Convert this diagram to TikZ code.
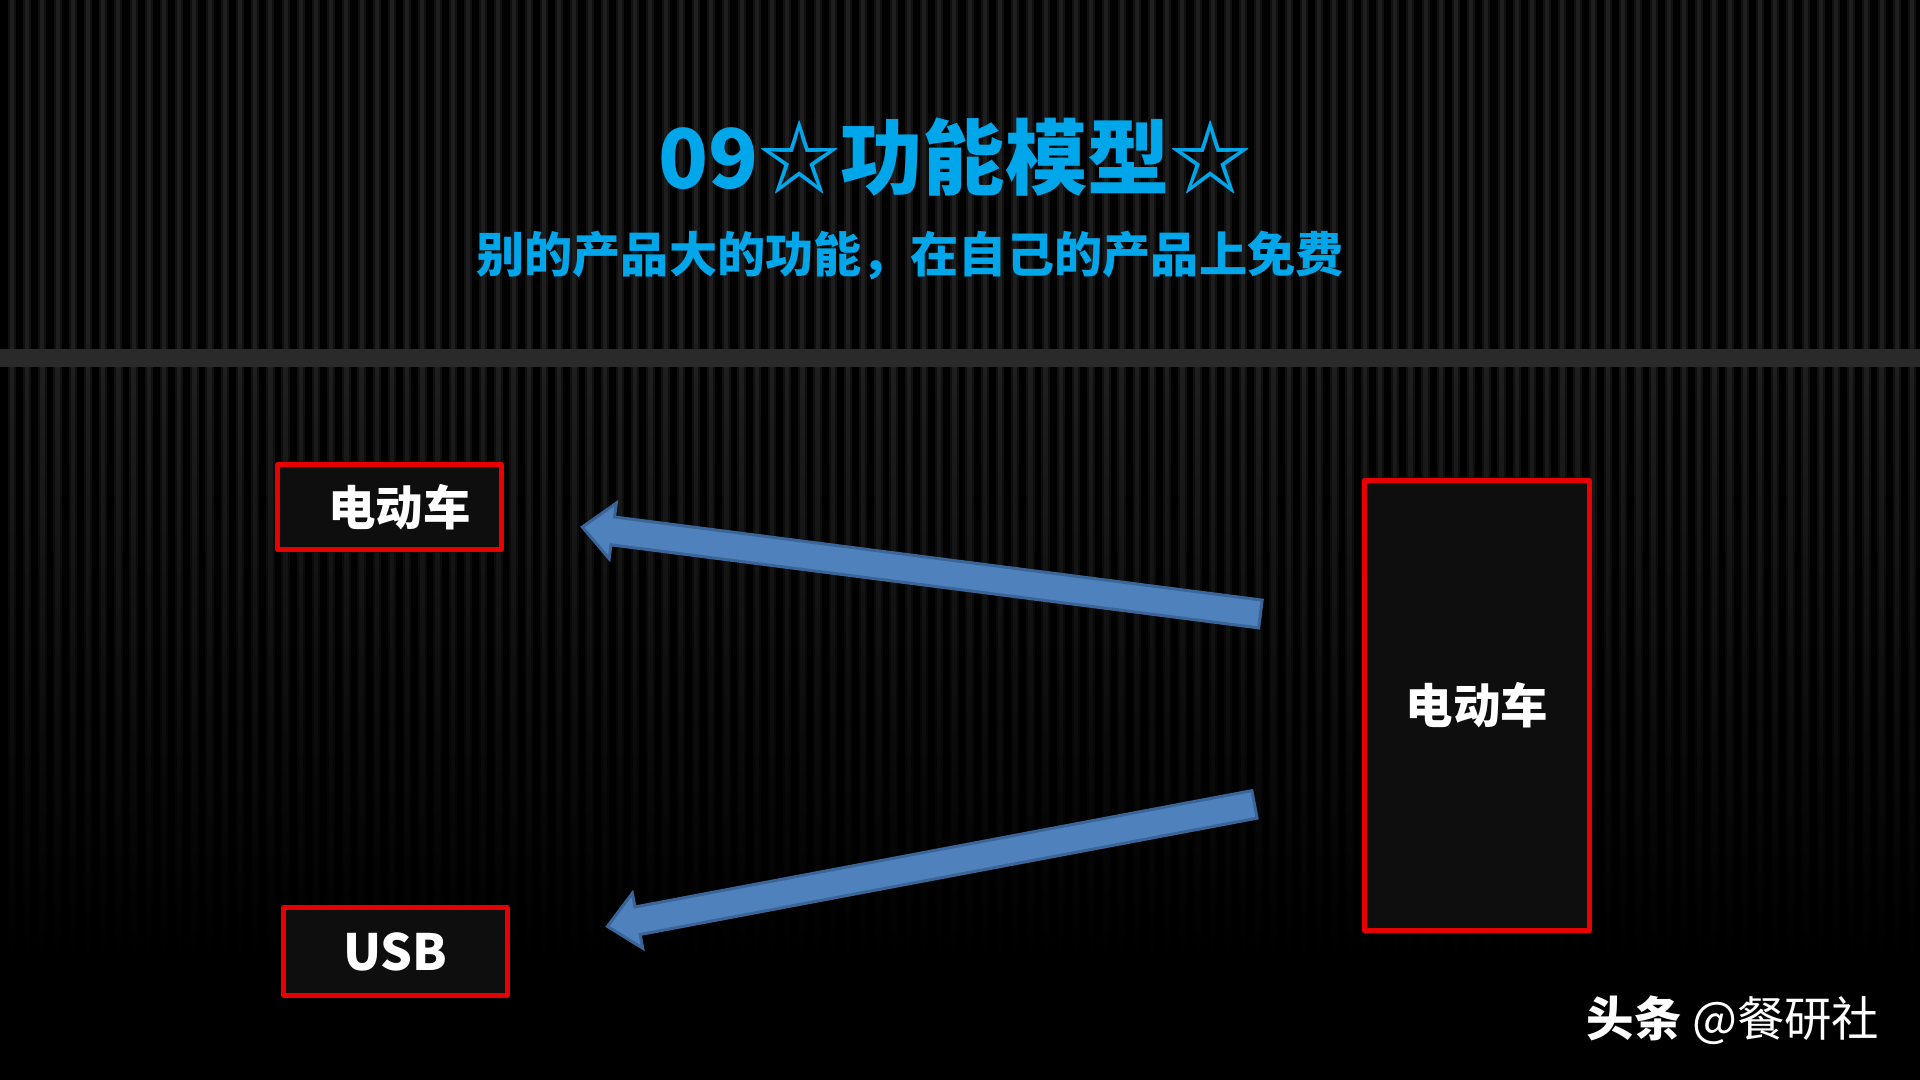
\documentclass[tikz,border=0pt]{standalone}
\usepackage{fontspec}
\usetikzlibrary{calc,shapes.arrows}
\newfontfamily\cjk{Noto Sans CJK SC}
\definecolor{titleblue}{HTML}{00A6EA}
\definecolor{boxred}{HTML}{E60000}
\definecolor{boxfill}{HTML}{0E0E0E}
\definecolor{arrowfill}{HTML}{4F81BD}
\definecolor{arrowline}{HTML}{3A6598}
\definecolor{stripegray}{HTML}{1E1E1E}
\definecolor{stripedim}{HTML}{101010}
\definecolor{bandgray}{HTML}{2A2A2A}
\tikzset{
  redbox/.style={draw=boxred, line width=0.05cm, fill=boxfill, line join=round,
    text=white, inner sep=0pt, font=\cjk\bfseries\fontsize{13.5}{16}\selectfont},
  blockarrow/.style={single arrow, draw=arrowline, fill=arrowfill, line width=0.03cm,
    inner xsep=0pt, inner ysep=0.125cm, minimum width=0pt,
    single arrow head extend=0.14cm, single arrow tip angle=85},
  bluetext/.style={text=titleblue, inner sep=0pt},
}

\begin{document}
\begin{tikzpicture}[x=0.01cm, y=-0.01cm]
			%%%%% BACKGROUND %%%%%
			\useasboundingbox (0,0) rectangle (1920,1080);
			\fill[black] (0,0) rectangle (1920,1080);
			\foreach \i in {0,...,125}{
				\pgfmathsetmacro\sx{12+15.2*\i}
				\fill[stripedim] (\sx-4,0) rectangle (\sx+4,349);
				\fill[stripegray] (\sx-2,0) rectangle (\sx+2,349);
				\shade[top color=stripedim, bottom color=black] (\sx-4,367) rectangle (\sx+4,960);
				\shade[top color=stripegray, bottom color=black] (\sx-2,367) rectangle (\sx+2,960);
			}
			\fill[bandgray] (0,349) rectangle (1920,367);
			
			%%%%% TITLE %%%%%
			\node[bluetext, font=\cjk\bfseries\fontsize{23.4}{28}\selectfont] (title) at (955,157) {09☆功能模型☆};
			\node[bluetext, font=\cjk\bfseries\fontsize{13.7}{16}\selectfont] (subtitle) at (910,256) {别的产品大的功能，在自己的产品上免费};
			
			%%%%% BOXES %%%%%
			\node[redbox, minimum width=2.24cm, minimum height=0.85cm] (ebike) at (389.5,507) {\hspace*{0.2cm}电动车};
			\node[redbox, minimum width=2.24cm, minimum height=0.88cm,
				font=\cjk\bfseries\fontsize{14.2}{17}\selectfont] (usb) at (395.5,951.5) {USB};
			\node[redbox, minimum width=2.25cm, minimum height=4.50cm] (bigbike) at (1477,705.5) {电动车};
			
			%%%%% ARROWS %%%%%
			\coordinate (tailA) at (1268,615);
			\coordinate (tipA) at (590,528);
			\coordinate (tailB) at (1262,803);
			\coordinate (tipB) at (615,925);
			\path let \p1=($(tipA)-(tailA)$), \n1={atan2(\y1,\x1)}, \n2={veclen(\x1,\y1)} in
				node[blockarrow, minimum height=\n2, rotate=\n1] (arrowA) at ($(tailA)!0.5!(tipA)$) {};
			\path let \p1=($(tipB)-(tailB)$), \n1={atan2(\y1,\x1)}, \n2={veclen(\x1,\y1)} in
				node[blockarrow, minimum height=\n2, rotate=\n1] (arrowB) at ($(tailB)!0.5!(tipB)$) {};
			
			%%%%% WATERMARK %%%%%
			\node[text=white, inner sep=0pt, font=\cjk\fontsize{13.5}{16}\selectfont] (mark) at (1733,1020) {{\bfseries 头条} @餐研社};
\end{tikzpicture}
\end{document}
